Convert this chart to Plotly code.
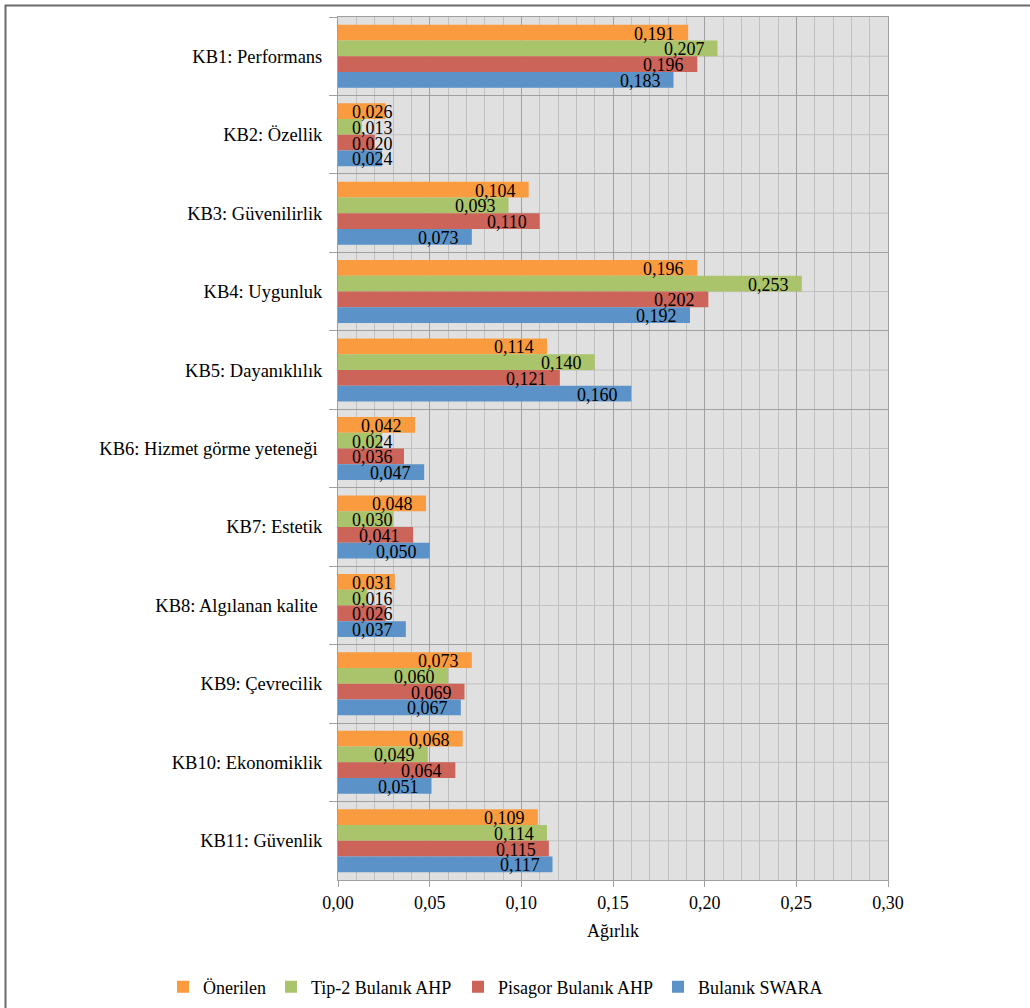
import plotly.graph_objects as go

# Criteria (Turkish) and weights per method
categories = [
    "KB1: Performans",
    "KB2: Özellik",
    "KB3: Güvenilirlik",
    "KB4: Uygunluk",
    "KB5: Dayanıklılık",
    "KB6: Hizmet görme yeteneği\u00a0",
    "KB7: Estetik",
    "KB8: Algılanan kalite\u00a0",
    "KB9: Çevrecilik",
    "KB10: Ekonomiklik",
    "KB11: Güvenlik",
]
onerilen = [0.191, 0.026, 0.104, 0.196, 0.114, 0.042, 0.048, 0.031, 0.073, 0.068, 0.109]
tip2_ahp = [0.207, 0.013, 0.093, 0.253, 0.140, 0.024, 0.030, 0.016, 0.060, 0.049, 0.114]
pisagor_ahp = [0.196, 0.020, 0.110, 0.202, 0.121, 0.036, 0.041, 0.026, 0.069, 0.064, 0.115]
bulanik_swara = [0.183, 0.024, 0.073, 0.192, 0.160, 0.047, 0.050, 0.037, 0.067, 0.051, 0.117]

series_names = ["Önerilen", "Tip-2 Bulanık AHP", "Pisagor Bulanık AHP", "Bulanık SWARA"]
series_values = [onerilen, tip2_ahp, pisagor_ahp, bulanik_swara]
series_colors = ["#F99B3E", "#AAC46B", "#CD6459", "#5B92C8"]
# the legend row is split over two legend boxes placed side by side
series_legend = ["legend", "legend", "legend2", "legend2"]

FONT = "Liberation Serif"

W, H = 1030, 1008
ML, MR, MT, MB = 338, 142, 17, 128
X_MAX = 0.30
BARGAP = 0.197

plot_w = W - ML - MR
plot_h = H - MT - MB
px_per_unit = plot_w / X_MAX
cat_px = plot_h / len(categories)
bar_px = cat_px * (1 - BARGAP) / len(series_names)

fig = go.Figure()
for name, vals, col, leg in zip(series_names, series_values, series_colors, series_legend):
    fig.add_trace(go.Bar(
        y=categories, x=vals, name=name, orientation="h", legend=leg,
        marker=dict(color=col, line=dict(width=0)),
    ))

# Value labels: right-aligned inside the bar end, but never closer than
# a fixed distance to the value axis origin.
LABEL_W = 41
annotations = []
for i, vals in enumerate(series_values):
    yshift = (1.5 - i) * bar_px - 1
    for cat, v in zip(categories, vals):
        txt = f"{v:.3f}".replace(".", ",")
        if v * px_per_unit - 13 >= 14 + LABEL_W:
            annotations.append(dict(x=v, y=cat, xref="x", yref="y", text=txt,
                                    xanchor="right", xshift=-11, yshift=yshift,
                                    showarrow=False,
                                    font=dict(family=FONT, size=18, color="#000000")))
        else:
            annotations.append(dict(x=0, y=cat, xref="x", yref="y", text=txt,
                                    xanchor="left", xshift=12, yshift=yshift,
                                    showarrow=False,
                                    font=dict(family=FONT, size=18, color="#000000")))

# Light centre lines through each category band
shapes = []
for cat in categories:
    shapes.append(dict(type="line", xref="paper", yref="y", x0=0, x1=1, y0=cat, y1=cat,
                       line=dict(color="#c0c0c0", width=1), layer="below"))
# Outer frame around the figure
shapes.append(dict(type="rect", xref="paper", yref="paper",
                   x0=(5.5 - ML) / plot_w, x1=(W + 20 - ML) / plot_w,
                   y0=-(MB + 20) / plot_h, y1=(plot_h + MT - 5.5) / plot_h,
                   line=dict(color="#6b6b6b", width=2), layer="above"))

legend_common = dict(orientation="h", xref="container", yref="container",
                     xanchor="left", y=21 / H, yanchor="middle",
                     font=dict(family=FONT, size=18, color="#000000"),
                     traceorder="normal", itemwidth=30, bgcolor="rgba(0,0,0,0)")

fig.update_layout(
    width=W, height=H,
    margin=dict(l=ML, r=MR, t=MT, b=MB, pad=0),
    paper_bgcolor="white",
    plot_bgcolor="#e0e0e0",
    barmode="group",
    bargap=BARGAP,
    bargroupgap=0,
    separators=",.",
    font=dict(family=FONT, size=18, color="#000000"),
    annotations=annotations,
    shapes=shapes,
    showlegend=True,
    legend=dict(x=163 / W, **legend_common),
    legend2=dict(x=458 / W, **legend_common),
    xaxis=dict(
        range=[0, X_MAX], dtick=0.05, tick0=0, tickformat=".2f",
        showgrid=True, gridcolor="#a0a0a0", gridwidth=1,
        minor=dict(dtick=0.01, showgrid=True, gridcolor="#c0c0c0", gridwidth=1),
        showline=True, linecolor="#a0a0a0", linewidth=1, mirror=True,
        ticks="outside", ticklen=6, tickcolor="#a0a0a0",
        zeroline=False,
        tickfont=dict(family=FONT, size=18, color="#000000"),
        title=dict(text="Ağırlık", standoff=12,
                   font=dict(family=FONT, size=18, color="#000000")),
    ),
    yaxis=dict(
        type="category", autorange="reversed",
        tickson="boundaries", showgrid=True, gridcolor="#a0a0a0", gridwidth=1,
        showline=True, linecolor="#a0a0a0", linewidth=1, mirror=True,
        ticks="outside", ticklen=8, tickcolor="#a0a0a0",
        ticklabelstandoff=11,
        tickfont=dict(family=FONT, size=18.5, color="#000000"),
    ),
)

fig.write_html("out.html")
